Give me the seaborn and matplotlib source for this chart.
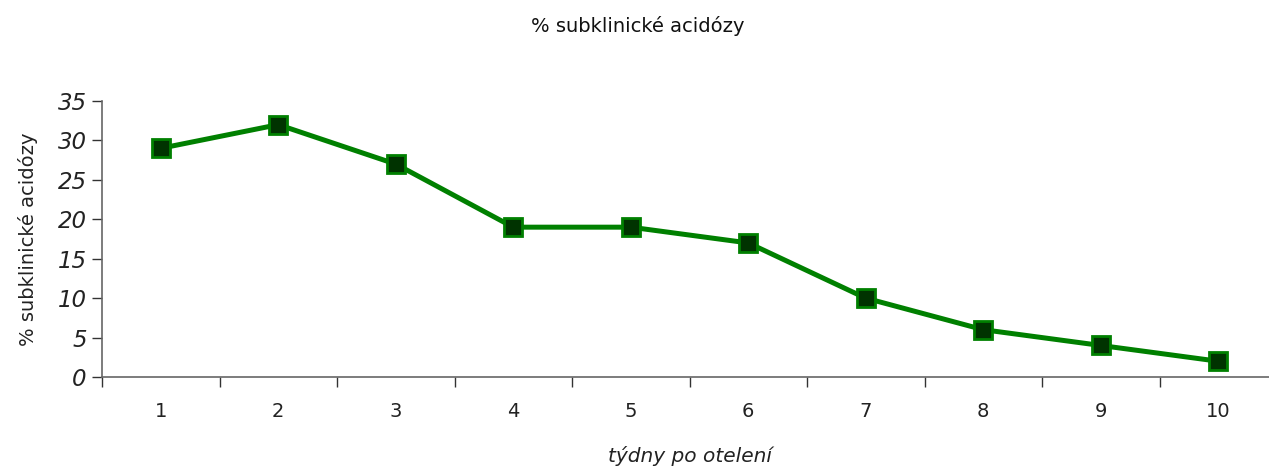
import matplotlib
matplotlib.use("Agg")
import matplotlib.pyplot as plt
import seaborn as sns
import pandas as pd
import numpy as np
from matplotlib.ticker import FixedLocator

# Weekly share of cows with subclinical acidosis
weeks = [1, 2, 3, 4, 5, 6, 7, 8, 9, 10]
acidosis_pct = [29, 32, 27, 19, 19, 17, 10, 6, 4, 2]
y_ticks = [0, 5, 10, 15, 20, 25, 30, 35]

title_text = "% subklinické acidózy"
y_label = "% subklinické acidózy"
x_label = "týdny po otelení"

sns.set_theme(style="white")
plt.rcParams["font.family"] = ["DejaVu Sans"]

df = pd.DataFrame({"week": weeks, "pct": acidosis_pct})

fig = plt.figure(figsize=(12.69, 4.70), dpi=100)
ax = fig.add_axes([102 / 1269, 1 - 377 / 470, 1175 / 1269, 276 / 470])

sns.lineplot(data=df, x="week", y="pct", ax=ax, color="#008000", linewidth=3.6,
             marker="s", markersize=13, markerfacecolor="#003300",
             markeredgecolor="#008000", markeredgewidth=2)

ax.set_xlim(0.5, 10.5)
ax.set_ylim(0, 35)
ax.set_yticks(y_ticks)
ax.set_yticklabels([str(t) for t in y_ticks], fontstyle="italic", fontsize=16.5, color="#222222")
ax.set_xticks(weeks)
ax.set_xticklabels([str(w) for w in weeks], fontsize=14, color="#222222")
ax.xaxis.set_minor_locator(FixedLocator(np.arange(0.5, 11.0, 1.0)))

ax.tick_params(axis="x", which="major", length=0, pad=18)
ax.tick_params(axis="x", which="minor", length=7, width=1, color="#333333", direction="out", bottom=True)
ax.tick_params(axis="y", which="major", length=7, width=1, color="#333333", direction="out", left=True, pad=4)

for side in ["top", "right"]:
    ax.spines[side].set_visible(False)
for side in ["left", "bottom"]:
    ax.spines[side].set_color("#666666")
    ax.spines[side].set_linewidth(1.2)

ax.set_xlabel(x_label, fontstyle="italic", fontsize=14.5, color="#222222", labelpad=18)
ax.set_ylabel(y_label, fontsize=14, color="#222222", labelpad=14)
fig.text(0.5025, 0.945, title_text, ha="center", va="center", fontsize=14, color="#111111")

fig.savefig("out.png", dpi=100)
